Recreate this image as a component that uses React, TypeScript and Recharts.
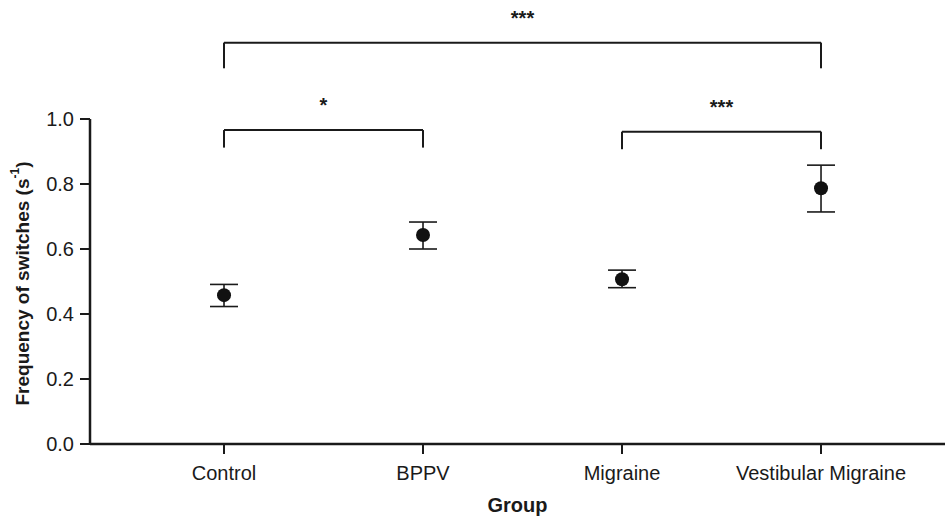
import React from 'react';
import {
  ScatterChart,
  Scatter,
  XAxis,
  YAxis,
  ErrorBar,
  ReferenceLine,
  Label,
} from 'recharts';

const groups = ['Control', 'BPPV', 'Migraine', 'Vestibular Migraine'];
const means = [0.458, 0.643, 0.507, 0.787];
const upper = [0.491, 0.683, 0.535, 0.858];
const lower = [0.423, 0.6, 0.481, 0.714];
const yTicks = [0, 0.2, 0.4, 0.6, 0.8, 1.0];

// significance brackets: [from group, to group, bar height, leg end, stars]
const brackets: Array<[number, number, number, number, string]> = [
  [1, 4, 1.235, 1.156, '***'],
  [1, 2, 0.966, 0.912, '*'],
  [3, 4, 0.961, 0.907, '***'],
];

const data = groups.map((g, i) => ({
  x: i + 1,
  y: means[i],
  err: [means[i] - lower[i], upper[i] - means[i]],
}));

const FONT = '"Liberation Sans", Arial, sans-serif';
const INK = '#1a1a1a';

const YTitle = (props: any) => {
  const vb = props.viewBox || {};
  const cx = 22;
  const cy = (vb.y ?? 119) + (vb.height ?? 325) / 2 + 2;
  return (
    <text
      x={cx}
      y={cy}
      transform={`rotate(-90, ${cx}, ${cy})`}
      textAnchor="middle"
      dominantBaseline="central"
      fontFamily={FONT}
      fontWeight="bold"
      fontSize={19}
      fill={INK}
    >
      <tspan>Frequency of switches (s</tspan>
      <tspan dy={-7} fontSize={12}>-1</tspan>
      <tspan dy={7}>)</tspan>
    </text>
  );
};

const App = () => {
  return (
    <div style={{ position: 'absolute', left: 0, top: 0, background: '#fff' }}>
      <ScatterChart
        width={947}
        height={518}
        margin={{ top: 119, right: 2, bottom: 0, left: 0 }}
      >
        <XAxis
          type="number"
          dataKey="x"
          domain={[0.3266, 4.623]}
          allowDataOverflow
          ticks={[1, 2, 3, 4]}
          tickFormatter={(v: number) => groups[v - 1]}
          axisLine={{ stroke: INK, strokeWidth: 2.5 }}
          tickLine={{ stroke: INK, strokeWidth: 2 }}
          tickSize={10}
          tickMargin={12}
          height={74}
          tick={{ fontSize: 20, fill: INK, fontFamily: FONT }}
        >
          <Label
            value="Group"
            position="insideBottom"
            offset={6}
            style={{ fontSize: 20, fontWeight: 'bold', fill: INK, fontFamily: FONT }}
          />
        </XAxis>
        <YAxis
          type="number"
          dataKey="y"
          domain={[0, 1]}
          ticks={yTicks}
          interval={0}
          allowDataOverflow
          tickFormatter={(v: number) => v.toFixed(1)}
          axisLine={{ stroke: INK, strokeWidth: 2.5 }}
          tickLine={{ stroke: INK, strokeWidth: 2 }}
          tickSize={10}
          tickMargin={6}
          width={90}
          tick={{ fontSize: 20, fill: INK, fontFamily: FONT }}
        >
          <Label content={<YTitle />} />
        </YAxis>
        {brackets.flatMap(([a, b, top, end, stars], i) => [
          <ReferenceLine
            key={`h${i}`}
            segment={[{ x: a, y: top }, { x: b, y: top }]}
            ifOverflow="visible"
            stroke={INK}
            strokeWidth={2}
            label={{
              value: stars,
              position: 'top',
              offset: 18,
              style: { fontSize: 20, fontWeight: 'bold', fill: INK, fontFamily: FONT },
            }}
          />,
          <ReferenceLine
            key={`l${i}`}
            segment={[{ x: a, y: top }, { x: a, y: end }]}
            ifOverflow="visible"
            stroke={INK}
            strokeWidth={2}
          />,
          <ReferenceLine
            key={`r${i}`}
            segment={[{ x: b, y: top }, { x: b, y: end }]}
            ifOverflow="visible"
            stroke={INK}
            strokeWidth={2}
          />,
        ])}
        <Scatter
          data={data}
          fill="#111"
          isAnimationActive={false}
          shape={(p: any) => <circle cx={p.cx} cy={p.cy} r={7} fill="#111" />}
        >
          <ErrorBar
            dataKey="err"
            direction="y"
            width={14}
            stroke={INK}
            strokeWidth={1.6}
            isAnimationActive={false}
          />
        </Scatter>
      </ScatterChart>
    </div>
  );
};

export default App;
